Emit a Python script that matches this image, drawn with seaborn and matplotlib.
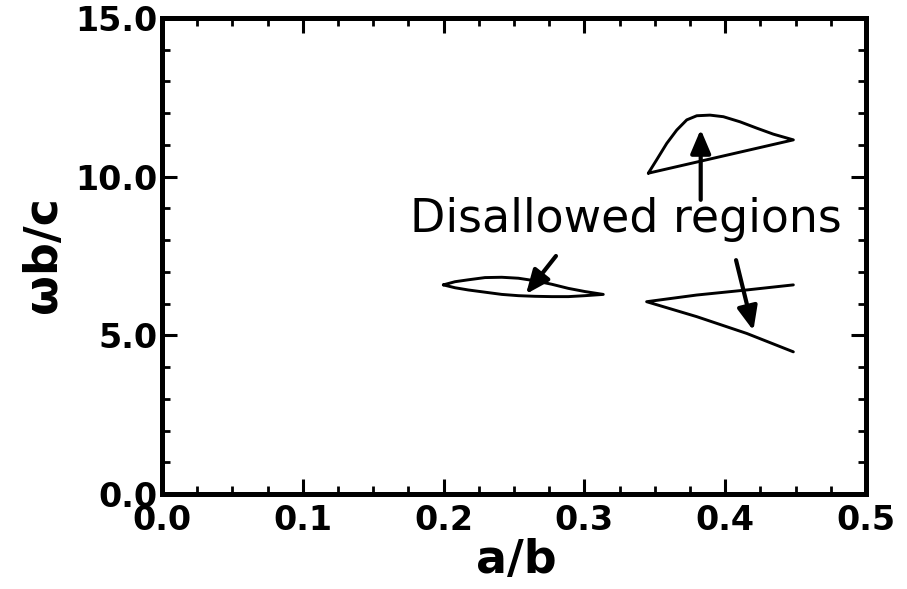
import matplotlib
matplotlib.use("Agg")
import matplotlib.pyplot as plt
import seaborn as sns
import pandas as pd
from matplotlib.ticker import MultipleLocator

# ---- data ----
lens_x = [0.1998, 0.2081, 0.2175, 0.2294, 0.2413, 0.2531, 0.2649, 0.2768,
          0.2886, 0.3004, 0.3134,
          0.3004, 0.2886, 0.2768, 0.2649, 0.2531, 0.2413, 0.2294, 0.2175,
          0.2081, 0.1998]
lens_y = [6.59, 6.69, 6.75, 6.82, 6.83, 6.80, 6.72, 6.61,
          6.48, 6.38, 6.29,
          6.25, 6.22, 6.22, 6.23, 6.25, 6.29, 6.36, 6.43,
          6.50, 6.59]

upper_x = [0.3454, 0.3513, 0.3585, 0.3656, 0.3727, 0.3798, 0.3892, 0.3987,
           0.4105, 0.4224, 0.4342, 0.4484, 0.3454]
upper_y = [10.11, 10.53, 11.05, 11.47, 11.79, 11.92, 11.94, 11.89,
           11.73, 11.53, 11.34, 11.16, 10.11]

wedge_x = [0.4484, 0.4153, 0.3797, 0.3442, 0.3797, 0.4153, 0.4484]
wedge_y = [6.59, 6.43, 6.27, 6.06, 5.59, 5.06, 4.48]

# annotation arrows: (tail x, tail y, head x, head y)
arrows = [
    (0.3826, 9.27, 0.3826, 11.49),
    (0.2798, 7.50, 0.2585, 6.30),
    (0.4077, 7.37, 0.4200, 5.15),
]
note_text = "Disallowed regions"
note_pos = (0.3295, 8.26)

x_ticks = [0.0, 0.1, 0.2, 0.3, 0.4, 0.5]
x_tick_labels = ["0.0", "0.1", "0.2", "0.3", "0.4", "0.5"]
y_ticks = [0.0, 5.0, 10.0, 15.0]
y_tick_labels = ["0.0", "5.0", "10.0", "15.0"]
x_label = "a/b"
y_label = "ωb/c"

# ---- plotting ----
sns.set_theme(style="ticks")
plt.rcParams["font.family"] = ["DejaVu Sans"]

fig = plt.figure(figsize=(9.07, 5.89), dpi=100)
ax = fig.add_axes([0.1786, 0.1613, 0.9548 - 0.1786, 0.9694 - 0.1613])

curves = [("lens", lens_x, lens_y), ("upper", upper_x, upper_y), ("wedge", wedge_x, wedge_y)]
for name, xs, ys in curves:
    df = pd.DataFrame({"x": xs, "y": ys})
    sns.lineplot(data=df, x="x", y="y", sort=False, estimator=None,
                 color="black", lw=2.1, ax=ax)

for (tx, ty, hx, hy) in arrows:
    ax.annotate("", xy=(hx, hy), xytext=(tx, ty),
                arrowprops=dict(arrowstyle="-|>,head_length=0.8,head_width=0.34",
                                mutation_scale=18, lw=3.0, color="black",
                                shrinkA=0, shrinkB=0))

ax.text(note_pos[0], note_pos[1], note_text, ha="center", va="baseline",
        fontsize=33, color="black", family=["DejaVu Sans"])

ax.set_xlim(0, 0.5)
ax.set_ylim(0, 15)
ax.set_xticks(x_ticks)
ax.set_xticklabels(x_tick_labels)
ax.set_yticks(y_ticks)
ax.set_yticklabels(y_tick_labels)
ax.xaxis.set_minor_locator(MultipleLocator(0.025))
ax.yaxis.set_minor_locator(MultipleLocator(1.0))

ax.tick_params(which="both", direction="in", top=True, right=True, colors="black")
ax.tick_params(which="major", length=10.5, width=2.2)
ax.tick_params(which="minor", length=6.0, width=2.0)
ax.tick_params(axis="x", which="major", pad=7)
ax.tick_params(axis="y", which="major", pad=3)
for lab in ax.get_xticklabels() + ax.get_yticklabels():
    lab.set_fontsize(24)
    lab.set_fontweight("bold")

for sp in ax.spines.values():
    sp.set_linewidth(3.6)
    sp.set_color("black")
    sp.set_visible(True)

ax.set_xlabel(x_label, fontsize=33, fontweight="bold", color="black")
ax.set_ylabel(y_label, fontsize=33, fontweight="bold", color="black")
ax.xaxis.label.set_va("center")
ax.yaxis.label.set_va("center")
ax.xaxis.set_label_coords(0.503, -0.139)
ax.yaxis.set_label_coords(-0.168, 0.502)

fig.savefig("out.png", dpi=100)
